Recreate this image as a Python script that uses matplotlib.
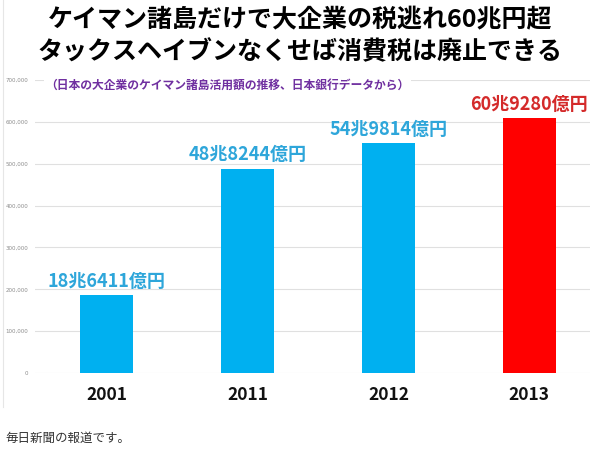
import matplotlib
matplotlib.use("Agg")
import matplotlib.pyplot as plt
from matplotlib.lines import Line2D

plt.rcParams['font.family'] = ['Noto Sans CJK JP', 'DejaVu Sans']

years = ["2001", "2011", "2012", "2013"]
values = [186411, 488244, 549814, 609280]  # 億円
bar_labels = ["18兆6411億円", "48兆8244億円", "54兆9814億円", "60兆9280億円"]
bar_colors = ["#00B0F0", "#00B0F0", "#00B0F0", "#FF0000"]
label_colors = ["#2EA6DA", "#2EA6DA", "#2EA6DA", "#D42A2A"]
yticks = [0, 100000, 200000, 300000, 400000, 500000, 600000, 700000]
ytick_labels = ["0", "100,000", "200,000", "300,000", "400,000", "500,000", "600,000", "700,000"]

title1 = "ケイマン諸島だけで大企業の税逃れ60兆円超"
title2 = "タックスヘイブンなくせば消費税は廃止できる"
subtitle = "（日本の大企業のケイマン諸島活用額の推移、日本銀行データから）"
caption = "毎日新聞の報道です。"

W, H = 600, 454
fig = plt.figure(figsize=(6, 4.54), dpi=100)
fig.patch.set_facecolor("white")

ax = fig.add_axes([35 / W, (H - 373) / H, (590 - 35) / W, (373 - 80) / H])
ax.set_xlim(-0.507, 3.43)
ax.set_ylim(0, 700000)
x = list(range(len(years)))
ax.bar(x, values, width=0.38, color=bar_colors, zorder=3)
ax.set_yticks(yticks)
ax.set_yticklabels(ytick_labels, fontsize=4, color="#8C8C8C", family=['DejaVu Sans'])
ax.tick_params(axis='y', length=0, pad=5)
ax.set_xticks(x)
ax.set_xticklabels(years, fontsize=12.5, fontweight='bold', color="#111111")
ax.tick_params(axis='x', length=0, pad=9)
ax.grid(axis='y', color="#E0E0E0", linewidth=0.8, zorder=0)
for s in ax.spines.values():
    s.set_visible(False)

for xi, v, lab, c in zip(x, values, bar_labels, label_colors):
    ax.annotate(lab, (xi, v), xytext=(0, 3), textcoords='offset points',
                ha='center', va='bottom', fontsize=13, fontweight='bold', color=c, zorder=4)

# chart frame line at left
fig.add_artist(Line2D([3 / W, 3 / W], [(H - 407) / H, 1], color="#E6E6E6", linewidth=0.8))

fig.text(300 / W, 1 - 20 / H, title1, ha='center', va='center', fontsize=18,
         fontweight='bold', color="#000000")
fig.text(300 / W, 1 - 52 / H, title2, ha='center', va='center', fontsize=18,
         fontweight='bold', color="#000000")
fig.text(45 / W, 1 - 85 / H, subtitle, ha='left', va='center', fontsize=8.5,
         fontweight='bold', color="#7030A0",
         bbox=dict(facecolor='white', edgecolor='none', pad=1))
fig.text(5 / W, 1 - 438 / H, caption, ha='left', va='center', fontsize=9,
         color="#333333")

fig.savefig("out.png", dpi=100)
